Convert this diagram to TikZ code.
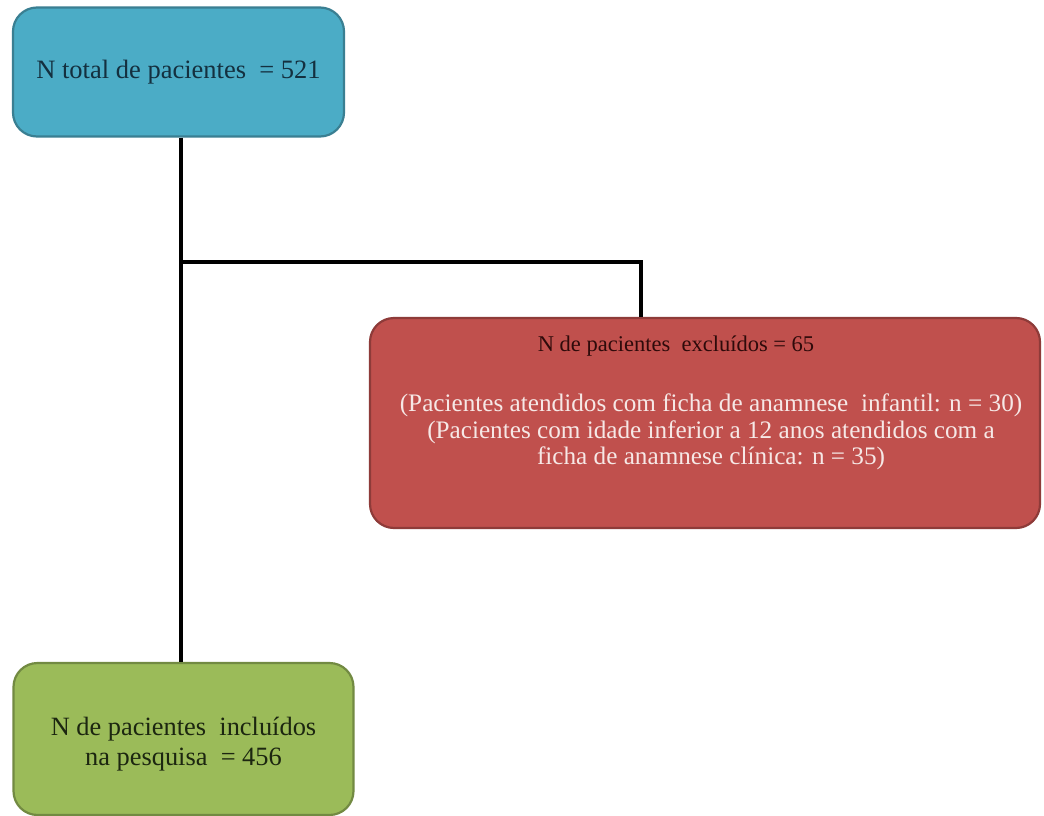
\documentclass[tikz,border=0pt]{standalone}
\usepackage{fontspec}
\setmainfont{Liberation Serif}
\definecolor{bluefill}{HTML}{4BACC6}
\definecolor{blueline}{HTML}{3A7F92}
\definecolor{bluetext}{HTML}{14303F}
\definecolor{redfill}{HTML}{C0504D}
\definecolor{redline}{HTML}{8E3B39}
\definecolor{redtitle}{HTML}{2E0A0A}
\definecolor{redtext}{HTML}{F6E8E6}
\definecolor{greenfill}{HTML}{9BBB59}
\definecolor{greenline}{HTML}{728A42}
\definecolor{greentext}{HTML}{1C2610}
\tikzset{
  flowbox/.style={rounded corners=24pt, line width=2.2pt, align=center, inner sep=0pt},
  conn/.style={line width=3.2pt, black},
}
\begin{document}
\begin{tikzpicture}[x=1pt,y=-1pt]
\useasboundingbox[fill=white] (0,0) rectangle (1044,816);
\node[flowbox, draw=blueline, fill=bluefill, text=bluetext,
      minimum width=331pt, minimum height=129pt,
      font=\fontsize{26.5}{32}\selectfont] (total) at (178.5,72)
  {N total de pacientes \ = 521};
\node[flowbox, draw=redline, fill=redfill,
      minimum width=670pt, minimum height=210pt] (excl) at (705,423) {};
\node[text=redtitle, align=center, inner sep=0pt,
      font=\fontsize{22.5}{28}\selectfont] (exclt) at (676,346)
  {N de pacientes \ excluídos = 65};
\node[text=redtext, align=center, inner sep=0pt,
      font=\fontsize{25.2}{26.5}\selectfont] (excld) at (711,432)
  {(Pacientes atendidos com ficha de anamnese \ infantil: n = 30)\\
   (Pacientes com idade inferior a 12 anos atendidos com a\\
   ficha de anamnese clínica: n = 35)};
\node[flowbox, draw=greenline, fill=greenfill,
      minimum width=340pt, minimum height=152pt] (incl) at (183.5,739) {};
\node[text=greentext, align=center, inner sep=0pt,
      font=\fontsize{26.4}{30}\selectfont] (inclt) at (183.5,744)
  {N de pacientes \ incluídos\\ na pesquisa \ = 456};
\coordinate (j) at (181,262);
\coordinate (k) at (641,262);
\draw[conn] (total.south -| j) -- (incl.north -| j);
\draw[conn] (j) -- (k) -- (k |- excl.north);
\end{tikzpicture}
\end{document}
